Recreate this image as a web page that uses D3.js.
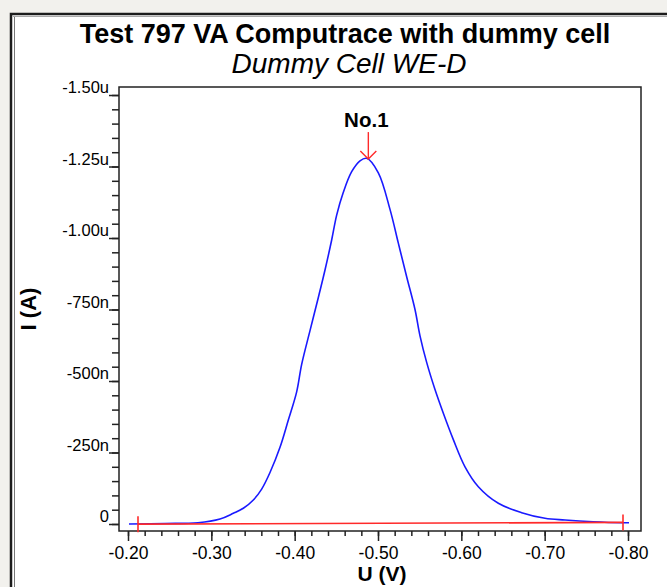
<!DOCTYPE html>
<html>
<head>
<meta charset="utf-8">
<script src="https://cdn.jsdelivr.net/npm/d3@7"></script>
<style>
  body { margin: 0; background: #f2f1ed; }
  svg { display: block; }
  text { font-family: "Liberation Sans", Arial, sans-serif; fill: #000; }
</style>
</head>
<body>
<div id="chart"></div>
<script>
// potential (V) of the scan
const potential = [-0.2012, -0.2444, -0.284, -0.3104, -0.3264, -0.3384, -0.3504, -0.3604,
  -0.3704, -0.3824, -0.3924, -0.4024, -0.4084, -0.4184, -0.4284, -0.4364, -0.4444, -0.4504,
  -0.4584, -0.4684, -0.4784, -0.4864, -0.5004, -0.5144, -0.5244, -0.5344, -0.5444, -0.5504,
  -0.5584, -0.5684, -0.5784, -0.5904, -0.6044, -0.6204, -0.6444, -0.6724, -0.7004, -0.7244,
  -0.758, -0.7928, -0.8012]
// current (nA)
const current = [0, -1.7, -4.5, -17.5, -37.4, -54.9, -83.9, -122,
  -180, -268, -363.6, -462, -558, -676, -792, -888.1, -993, -1080,
  -1160, -1231.8, -1270, -1278.7, -1228, -1100, -982, -864.7, -750, -658,
  -565, -470, -387.1, -295, -200, -130.4, -72.4, -39.5, -19.9, -14,
  -8, -4.5, -4.5]

// baseline end points
const baseU = [-0.212, -0.794]
const baseI = [0.5, -5.5]

// peak
const peakU = -0.4884
const peakI = -1276
const peakName = "No.1"

const xTicks = [-0.20, -0.30, -0.40, -0.50, -0.60, -0.70, -0.80]
const xTickLabels = ["-0.20", "-0.30", "-0.40", "-0.50", "-0.60", "-0.70", "-0.80"]
const yTicks = [-1500, -1250, -1000, -750, -500, -250, 0]
const yTickLabels = ["-1.50u", "-1.25u", "-1.00u", "-750n", "-500n", "-250n", "0"]

const W = 667, H = 587
const PLOT = { LEFT: 119, RIGHT: 641, TOP: 87, BOTTOM: 531 }

const svg = d3.select("#chart").append("svg")
  .attr("width", W)
  .attr("height", H)

// window frame
svg.append("rect")
  .attr("x", 11).attr("y", 14)
  .attr("width", W).attr("height", H)
  .attr("fill", "#fff")
  .attr("stroke", "#1c1c1c")
  .attr("stroke-width", 2.5)
svg.append("line")
  .attr("x1", 14.5).attr("x2", 14.5)
  .attr("y1", 16).attr("y2", H)
  .attr("stroke", "#777")
  .attr("stroke-width", 1)
svg.append("line")
  .attr("x1", 13).attr("x2", W)
  .attr("y1", 16.5).attr("y2", 16.5)
  .attr("stroke", "#aaa")
  .attr("stroke-width", 1)

// Scales
const x = d3.scaleLinear()
  .domain([-0.1892, -0.8156])
  .range([PLOT.LEFT, PLOT.RIGHT])
const y = d3.scaleLinear()
  .domain([24.5, -1528])
  .range([PLOT.BOTTOM, PLOT.TOP])

// Titles
svg.append("text")
  .attr("x", 345).attr("y", 43)
  .attr("text-anchor", "middle")
  .attr("font-size", "27px")
  .attr("font-weight", "bold")
  .text("Test 797 VA Computrace with dummy cell")
svg.append("text")
  .attr("x", 349).attr("y", 73)
  .attr("text-anchor", "middle")
  .attr("font-size", "28px")
  .attr("font-style", "italic")
  .text("Dummy Cell WE-D")

// X Axis
const xAxisCall = d3.axisBottom(x)
  .tickValues(d3.range(-0.20, -0.8101, -0.02))
  .tickFormat("")
  .tickSizeOuter(0)
  .tickSizeInner(5)
const xAxis = svg.append("g")
  .attr("class", "x axis")
  .attr("transform", `translate(0, ${PLOT.BOTTOM})`)
  .call(xAxisCall)
xAxis.select(".domain").remove()
xAxis.selectAll("line").attr("stroke", "#222").attr("stroke-width", 1.5)

const xMajor = svg.append("g")
  .attr("transform", `translate(0, ${PLOT.BOTTOM})`)
  .call(d3.axisBottom(x)
    .tickValues(xTicks)
    .tickFormat((d, i) => xTickLabels[i])
    .tickSizeOuter(0)
    .tickSize(10)
    .tickPadding(6))
xMajor.select(".domain").remove()
xMajor.selectAll("line").attr("stroke", "#222").attr("stroke-width", 1.5)
xMajor.selectAll("text")
  .attr("font-size", "17.5px")
  .attr("font-family", "Liberation Sans, Arial, sans-serif")
  .attr("fill", "#000")

// Y Axis
const yAxisCall = d3.axisLeft(y)
  .tickValues(d3.range(0, -1501, -50))
  .tickFormat("")
  .tickSizeOuter(0)
  .tickSizeInner(7)
const yAxis = svg.append("g")
  .attr("class", "y axis")
  .attr("transform", `translate(${PLOT.LEFT}, 0)`)
  .call(yAxisCall)
yAxis.select(".domain").remove()
yAxis.selectAll("line").attr("stroke", "#222").attr("stroke-width", 1.5)

const yMajor = svg.append("g")
  .attr("transform", `translate(${PLOT.LEFT}, 0)`)
  .call(d3.axisLeft(y)
    .tickValues(yTicks)
    .tickFormat((d, i) => yTickLabels[i])
    .tickSizeOuter(0)
    .tickSize(10)
    .tickPadding(0))
yMajor.select(".domain").remove()
yMajor.selectAll("line").attr("stroke", "#222").attr("stroke-width", 1.5)
yMajor.selectAll("text")
  .attr("font-size", "16.5px")
  .attr("font-family", "Liberation Sans, Arial, sans-serif")
  .attr("fill", "#000")
  .attr("dy", "-0.15em")

// plot frame
svg.append("rect")
  .attr("x", PLOT.LEFT).attr("y", PLOT.TOP)
  .attr("width", PLOT.RIGHT - PLOT.LEFT)
  .attr("height", PLOT.BOTTOM - PLOT.TOP)
  .attr("fill", "none")
  .attr("stroke", "#222")
  .attr("stroke-width", 1.5)

// axis labels
svg.append("text")
  .attr("x", (PLOT.LEFT + PLOT.RIGHT) / 2 + 2).attr("y", 581)
  .attr("text-anchor", "middle")
  .attr("font-size", "21px")
  .attr("font-weight", "bold")
  .text("U (V)")
svg.append("text")
  .attr("transform", `translate(36, ${(PLOT.TOP + PLOT.BOTTOM) / 2}) rotate(-90)`)
  .attr("text-anchor", "middle")
  .attr("font-size", "22px")
  .attr("font-weight", "bold")
  .text("I (A)")

// curve
const line = d3.line()
  .x(d => x(d[0]))
  .y(d => y(d[1]))
svg.append("path")
  .datum(d3.zip(potential, current))
  .attr("fill", "none")
  .attr("stroke", "#1a1aff")
  .attr("stroke-width", 1.6)
  .attr("d", line.curve(d3.curveCatmullRom.alpha(0.5)))
line.curve(d3.curveLinear)

// baseline
svg.append("path")
  .datum(d3.zip(baseU, baseI))
  .attr("fill", "none")
  .attr("stroke", "#ff2a2a")
  .attr("stroke-width", 1.6)
  .attr("d", line)
svg.selectAll(".basemark")
  .data(d3.zip(baseU, baseI))
  .enter().append("line")
  .attr("class", "basemark")
  .attr("x1", d => x(d[0])).attr("x2", d => x(d[0]))
  .attr("y1", d => y(d[1]) - 8).attr("y2", d => y(d[1]) + 8)
  .attr("stroke", "#ff2a2a")
  .attr("stroke-width", 1.6)

// peak marker
const px = x(peakU), py = y(peakI)
const arrow = svg.append("g")
  .attr("stroke", "#ff2a2a")
  .attr("stroke-width", 1.4)
  .attr("fill", "none")
arrow.append("line")
  .attr("x1", px).attr("x2", px)
  .attr("y1", py - 27).attr("y2", py)
arrow.append("path")
  .attr("d", `M${px - 8},${py - 8}L${px},${py}L${px + 8},${py - 8}`)
svg.append("text")
  .attr("x", px - 2).attr("y", py - 32)
  .attr("text-anchor", "middle")
  .attr("font-size", "20.5px")
  .attr("font-weight", "bold")
  .text(peakName)
</script>
</body>
</html>
